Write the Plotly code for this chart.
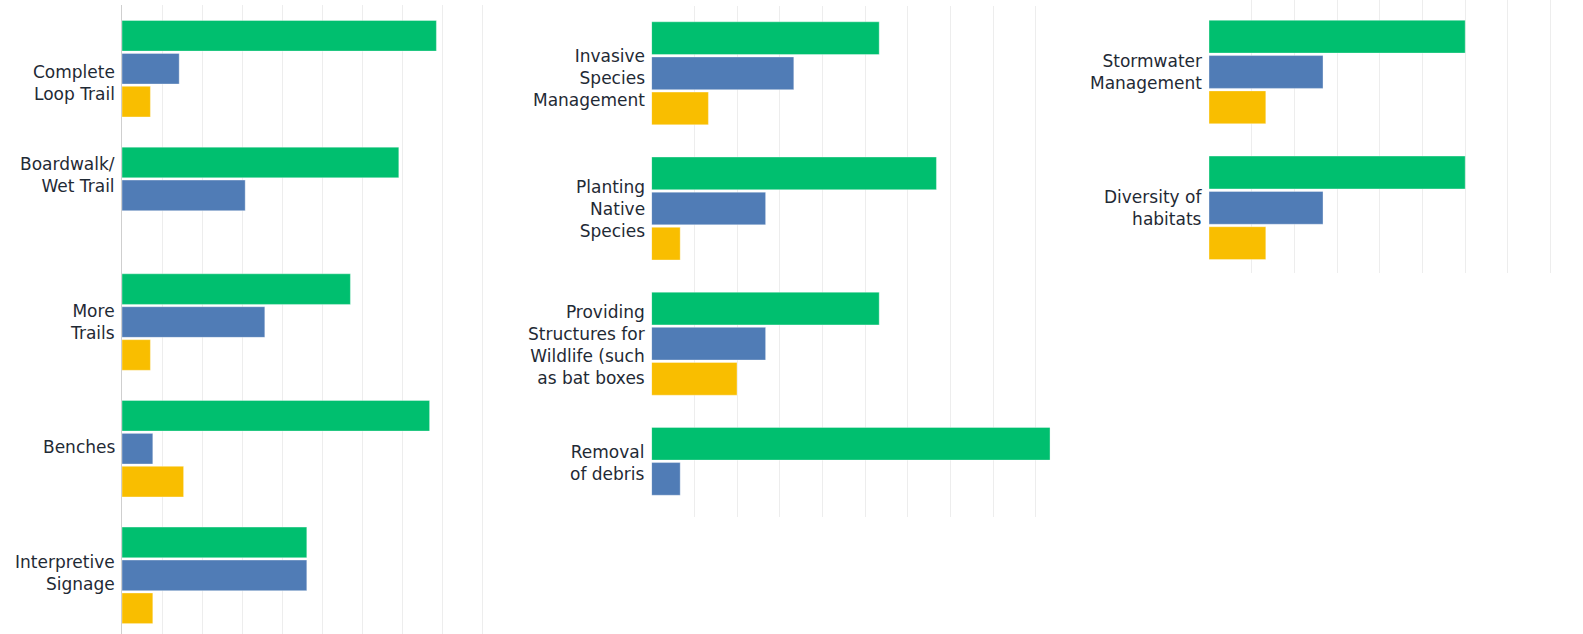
import plotly.graph_objects as go

# ---- data (percent of responses) ----
cats1 = ["Complete<br>Loop Trail", "Boardwalk/<br>Wet Trail", "More<br>Trails", "Benches", "Interpretive<br>Signage"]
green1 = [78.6, 69.2, 57.1, 76.9, 46.2]
blue1 = [14.3, 30.8, 35.7, 7.7, 46.2]
yellow1 = [7.1, 0.0, 7.1, 15.4, 7.7]

cats2 = ["Invasive<br>Species<br>Management", "Planting<br>Native<br>Species",
         "Providing<br>Structures for<br>Wildlife (such<br>as bat boxes", "Removal<br>of debris"]
green2 = [53.3, 66.7, 53.3, 93.3]
blue2 = [33.3, 26.7, 26.7, 6.7]
yellow2 = [13.3, 6.7, 20.0, 0.0]

cats3 = ["Stormwater<br>Management", "Diversity of<br>habitats"]
green3 = [60.0, 60.0]
blue3 = [26.7, 26.7]
yellow3 = [13.3, 13.3]

series_names = ["Series 1", "Series 2", "Series 3"]

# ---- styles ----
GREEN, BLUE, YELLOW = "#00BF6F", "#507CB6", "#F9BE00"
TEXT = "#1f2a35"
GRID = "#ededed"
FONT = "DejaVu Sans"
W, H = 1583, 634

label_shift1 = [-14, 20, 0, 2, 2]
label_shift2 = [-5, 0, -1, 16]
label_shift3 = [0, 0]

fig = go.Figure()

panels = [
    (cats1, [green1, blue1, yellow1], "x", "y", label_shift1),
    (cats2, [green2, blue2, yellow2], "x2", "y2", label_shift2),
    (cats3, [green3, blue3, yellow3], "x3", "y3", label_shift3),
]
colors = [GREEN, BLUE, YELLOW]

for cats, vals, xa, ya, shifts in panels:
    for name, v, c in zip(series_names, vals, colors):
        fig.add_trace(go.Bar(
            y=cats, x=v, orientation="h", name=name, xaxis=xa, yaxis=ya,
            marker=dict(color=c, line=dict(color="rgba(255,255,255,0.35)", width=1)),
            showlegend=False,
        ))
    for cat, s in zip(cats, shifts):
        fig.add_annotation(
            xref=f"{xa} domain", x=0, yref=ya, y=cat, text=cat,
            xanchor="right", yanchor="middle", align="right",
            xshift=-5, yshift=s, showarrow=False,
            font=dict(family=FONT, size=17, color=TEXT),
        )

def xax(domain, rng, anchor):
    return dict(domain=domain, range=rng, showgrid=True, gridcolor=GRID, gridwidth=1,
                dtick=10, tick0=0, showticklabels=False, zeroline=False, showline=False,
                fixedrange=True, anchor=anchor)

def yax(domain, rng, anchor, showline):
    return dict(domain=domain, range=rng, type="category", showticklabels=False,
                showgrid=False, zeroline=False, showline=showline, linecolor="#cfcfcf",
                linewidth=1, anchor=anchor, fixedrange=True)

fig.update_layout(
    width=W, height=H,
    margin=dict(l=0, r=0, t=0, b=0),
    paper_bgcolor="white", plot_bgcolor="white",
    barmode="group", bargap=0.22, bargroupgap=0.07,
    font=dict(family=FONT, color=TEXT),
    xaxis=xax([122 / W, 514 / W], [0, 98], "y"),
    xaxis2=xax([651.6 / W, 1070.1 / W], [0, 98], "y2"),
    xaxis3=xax([1209 / W, 1.0], [0, (W - 1209) / 4.27], "y3"),
    yaxis=yax([0, 1 - 5.4 / H], [4.463, -0.5], "x", True),
    yaxis2=yax([1 - 516.5 / H, 1 - 5.7 / H], [3.278, -0.5], "x2", False),
    yaxis3=yax([1 - 273.3 / H, 1.0], [1.482, -0.53], "x3", False),
)

fig.write_html(
    "out.html",
    config={"displayModeBar": False},
    post_script="document.body.style.margin='0';document.body.style.overflow='hidden';",
)
